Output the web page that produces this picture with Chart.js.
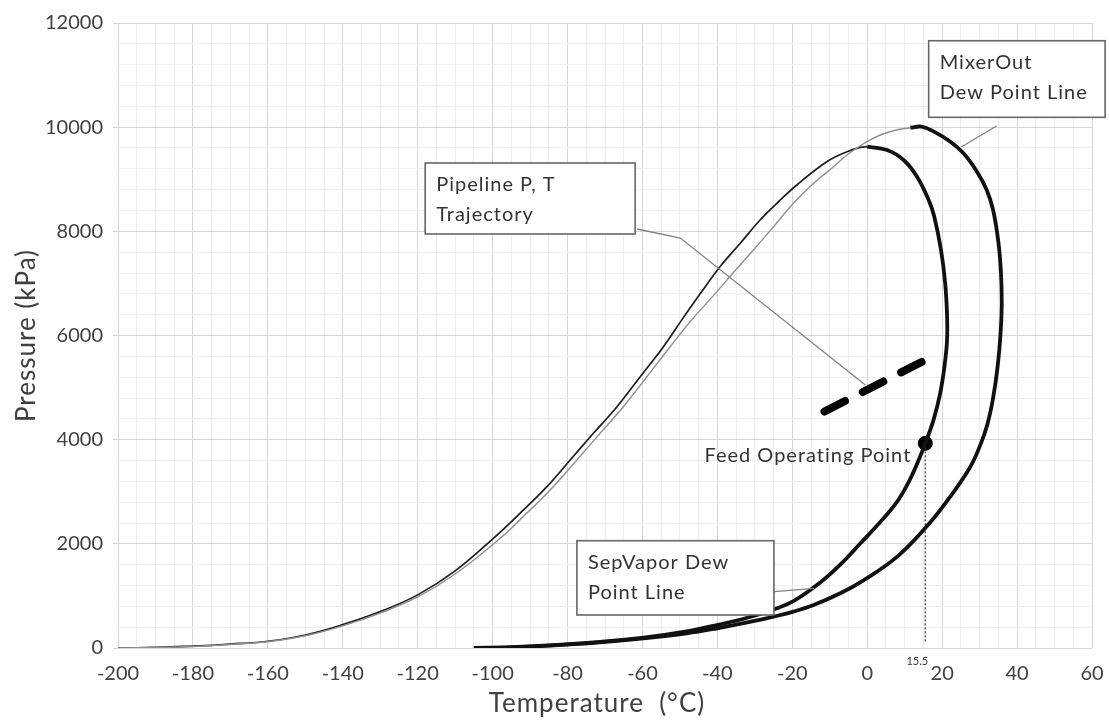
<!DOCTYPE html>
<html lang="en">
<head>
<meta charset="UTF-8">
<title>Pipeline phase envelope</title>
<script src="https://cdn.jsdelivr.net/npm/chart.js"></script>
<style>
  body { margin: 0; background: #fff; }
</style>
</head>
<body>
<canvas id="envelope" width="1109" height="721"></canvas>
<script>
// readings: temperature in °C, pressure in kPa
const sepBubbleT = [-200, -190, -180, -170, -160, -150, -140, -130, -120, -110, -99.8, -92.7, -85.5, -79.3, -73.1, -66.8, -60.6, -54.4, -49.5, -44.6, -39.3, -33.9, -28.6, -23.2, -18.8, -10.8, -5.4, -1.9, 0];
const sepBubbleP = [0, 12, 35, 75, 130, 250, 450, 700, 1020, 1480, 2106, 2586, 3097, 3610, 4122, 4633, 5209, 5785, 6300, 6800, 7321, 7770, 8218, 8602, 8890, 9337, 9529, 9613, 9625];

const mixBubbleT = [-200, -190, -180, -170, -160, -150, -140, -130, -120, -110, -98, -90.9, -83.8, -77.5, -71.3, -65.1, -58.8, -52.6, -46.9, -41, -35.7, -30.4, -25, -19.7, -14.3, -9, -5.4, -0.1, 3.5, 7.5, 11.5];
const mixBubbleP = [0, 10, 30, 70, 120, 235, 425, 670, 980, 1420, 2106, 2586, 3097, 3610, 4122, 4633, 5209, 5785, 6298, 6770, 7210, 7642, 8089, 8538, 8922, 9241, 9466, 9721, 9850, 9940, 9990];

const sepDewT = [0, 5.3, 9.7, 13.3, 16.4, 17.9, 19.7, 20.8, 21.3, 21.3, 20.6, 19.5, 17.7, 15.5, 13.2, 10.8, 7.7, 3, -1.8, -7.2, -12.5, -19.7, -25, -32, -40.1, -48.2, -59.7, -73.1, -85, -95, -105];
const sepDewP = [9625, 9562, 9370, 9049, 8602, 8281, 7642, 7008, 6400, 5900, 5400, 4900, 4380, 3930, 3520, 3150, 2780, 2380, 2010, 1600, 1260, 900, 740, 580, 440, 320, 200, 110, 50, 15, 0];

const mixDewT = [11.5, 14.5, 17.7, 22.2, 25.7, 29.3, 31.9, 33.6, 35, 35.7, 35.9, 35.6, 34.8, 33.6, 32.1, 30.2, 27.3, 21.5, 16.6, 8, -1, -7.2, -14.3, -19.7, -25, -32, -40.1, -48.2, -59.7, -73.1, -85, -95, -105];
const mixDewP = [9990, 10010, 9920, 9721, 9498, 9146, 8794, 8410, 7800, 7200, 6600, 6048, 5400, 4800, 4300, 3900, 3450, 2842, 2394, 1754, 1300, 1050, 826, 698, 602, 490, 378, 282, 186, 100, 45, 12, 0];

const pipeT = [-11.4, 14.5];
const pipeP = [4541, 5491];

const feedT = [15.5];
const feedP = [3930];

const dropT = [15.5, 15.5];
const dropP = [3930, 120];

const FONT = 'Lato, "Open Sans", sans-serif';
const TEXT = '#404040';

const pts = (T, P) => T.map((t, i) => ({ x: t, y: P[i] }));

// callout boxes, anchored in data units
const callouts = [
  { lines: ['Pipeline P, T', 'Trajectory'], box: [-118, 9312, -61.95, 7949],
    leader: [[-61.4, 8045], [-49.9, 7872], [-0.5, 5050]] },
  { lines: ['MixerOut', 'Dew Point Line'], box: [16.4, 11660, 63.5, 10189],
    leader: [[34.5, 10022], [25.1, 9619]] },
  { lines: ['SepVapor Dew', 'Point Line'], box: [-77.5, 2060, -24.9, 634],
    leader: [[-24.8, 1081], [-14.2, 1146]] }
];

const notes = {
  id: 'notes',
  afterDraw(chart) {
    const { ctx, scales: { x, y }, chartArea } = chart;
    ctx.save();

    callouts.forEach(c => {
      ctx.beginPath();
      c.leader.forEach(([t, p], i) => {
        const px = x.getPixelForValue(t), py = y.getPixelForValue(p);
        if (i === 0) ctx.moveTo(px, py); else ctx.lineTo(px, py);
      });
      ctx.strokeStyle = '#808080';
      ctx.lineWidth = 1.3;
      ctx.stroke();

      const x0 = x.getPixelForValue(c.box[0]), y0 = y.getPixelForValue(c.box[1]);
      const x1 = x.getPixelForValue(c.box[2]), y1 = y.getPixelForValue(c.box[3]);
      ctx.fillStyle = '#fff';
      ctx.fillRect(x0, y0, x1 - x0, y1 - y0);
      ctx.strokeStyle = '#666';
      ctx.lineWidth = 1.6;
      ctx.strokeRect(x0, y0, x1 - x0, y1 - y0);

      ctx.fillStyle = '#333';
      ctx.font = '20px ' + FONT;
      ctx.letterSpacing = '1px';
      ctx.textAlign = 'left';
      ctx.textBaseline = 'middle';
      c.lines.forEach((s, i) => ctx.fillText(s, x0 + 11, y0 + 22 + i * 30));
    });

    // feed point label and the small 15.5 mark
    const fx = x.getPixelForValue(feedT[0]), fy = y.getPixelForValue(feedP[0]);
    ctx.fillStyle = '#333';
    ctx.font = '20px ' + FONT;
    ctx.letterSpacing = '1px';
    ctx.textAlign = 'right';
    ctx.textBaseline = 'middle';
    ctx.fillText('Feed Operating Point', fx - 14, fy + 12);

    ctx.letterSpacing = '0px';
    ctx.font = '11px ' + FONT;
    ctx.textAlign = 'center';
    ctx.fillText('15.5', fx - 8, y.getPixelForValue(0) + 13);

    // axis titles
    ctx.fillStyle = TEXT;
    ctx.font = '26px ' + FONT;
    ctx.letterSpacing = '1px';
    ctx.fillText('Temperature  (°C)', (chartArea.left + chartArea.right) / 2 - 8, 704);
    ctx.translate(27, (chartArea.top + chartArea.bottom) / 2);
    ctx.rotate(-Math.PI / 2);
    ctx.fillText('Pressure (kPa)', 0, 0);
    ctx.restore();
  }
};

const curve = (data, color, w) => ({
  data, borderColor: color, borderWidth: w, showLine: true, pointRadius: 0, tension: 0.4, fill: false
});

new Chart(document.getElementById('envelope'), {
  type: 'scatter',
  data: {
    datasets: [
      curve(pts(mixBubbleT, mixBubbleP), '#8f8f8f', 1.4),
      curve(pts(sepBubbleT, sepBubbleP), '#1e1e1e', 1.7),
      curve(pts(sepDewT, sepDewP), '#111', 3.8),
      curve(pts(mixDewT, mixDewP), '#111', 3.8),
      { data: pts(dropT, dropP), borderColor: '#555', borderWidth: 1.5, borderDash: [2, 2],
        showLine: true, pointRadius: 0 },
      { data: pts(pipeT, pipeP), borderColor: '#000', borderWidth: 8, borderDash: [23, 20],
        borderCapStyle: 'round', showLine: true, pointRadius: 0 },
      { data: pts(feedT, feedP), backgroundColor: '#000', borderColor: '#000', pointRadius: 7 }
    ]
  },
  options: {
    responsive: false,
    animation: false,
    layout: { padding: { top: 23, right: 17, left: 0, bottom: 0 } },
    plugins: { legend: { display: false }, tooltip: { enabled: false } },
    scales: {
      x: {
        type: 'linear', min: -200, max: 60,
        afterFit: s => { s.height = 73; },
        border: { display: false },
        grid: {
          color: c => (c.tick.value % 20 === 0 ? '#d6d6d6' : '#efefef'),
          tickColor: 'rgba(0,0,0,0)',
          lineWidth: 1, tickLength: 14
        },
        ticks: {
          stepSize: 5, autoSkip: false, maxRotation: 0, padding: 0,
          color: TEXT, font: { family: FONT, size: 20 },
          callback: v => (Math.round(v) % 20 === 0 ? String(v) : '')
        }
      },
      y: {
        min: 0, max: 12000,
        afterFit: s => { s.width = 118; },
        border: { display: false },
        grid: {
          color: c => (Math.round(c.tick.value) % 2000 === 0 ? '#d6d6d6' : '#efefef'),
          tickColor: c => (Math.round(c.tick.value) % 2000 === 0 ? '#d6d6d6' : 'rgba(0,0,0,0)'),
          lineWidth: 1, tickLength: 5
        },
        ticks: {
          stepSize: 400, autoSkip: false, padding: 10,
          color: TEXT, font: { family: FONT, size: 20 },
          callback: v => (Math.round(v) % 2000 === 0 ? String(v) : '')
        }
      }
    }
  },
  plugins: [notes]
});
</script>
</body>
</html>
